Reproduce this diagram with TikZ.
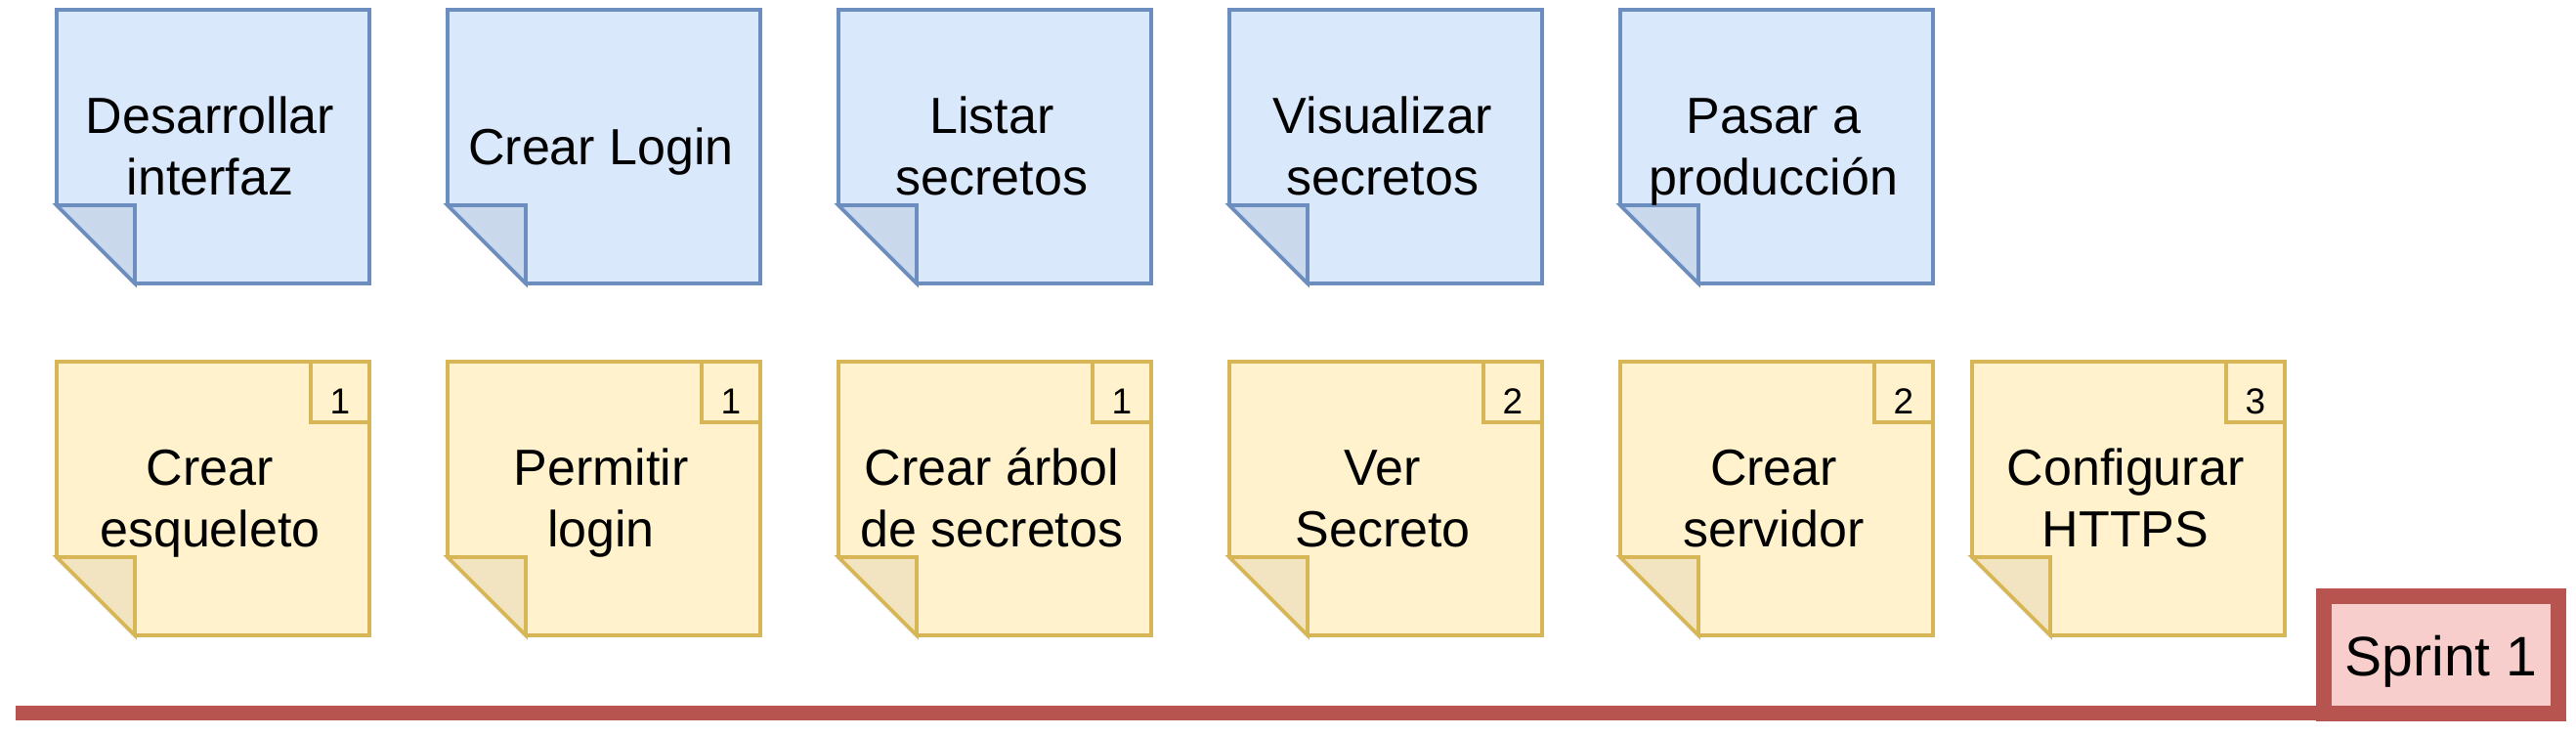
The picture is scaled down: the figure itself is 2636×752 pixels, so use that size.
\documentclass[tikz,border=0pt]{standalone}
\usepackage{fontspec}
\setmainfont{Liberation Sans}
\definecolor{bfill}{HTML}{DAE8FC}
\definecolor{bline}{HTML}{6C8EBF}
\definecolor{bfold}{HTML}{CAD8EC}
\definecolor{yfill}{HTML}{FFF2CC}
\definecolor{yline}{HTML}{D6B656}
\definecolor{yfold}{HTML}{F2E4C0}
\definecolor{sfill}{HTML}{F8CECC}
\definecolor{sline}{HTML}{B85450}
\newcommand\ls{\rule[-13.2pt]{0pt}{62.4pt}}
\newcommand\stickynote[5]{% name, left, top, colour prefix, text
  \path[draw=#4line, fill=#4fill, notepen] (#2,#3) -- ++(320,0) -- ++(0,280) -- ++(-240,0) -- ++(-80,-80) -- cycle;
  \path[draw=#4line, fill=#4fold, notepen] (#2,#3+200) -- ++(80,0) -- ++(0,80) -- cycle;
  \node[notetext] (#1) at (#2+157,#3+140) {#5};
}
\newcommand\storybadge[4]{% name, left, top, number
  \node[badgebox] (#1) at (#2+320,#3) {};
  \node[badgenum] (#1n) at (#2+290,#3+53) {#4};
}
\begin{document}
\begin{tikzpicture}[x=1pt,y=-1pt,
  notepen/.style={line width=3.8pt, line join=miter},
  notetext/.style={inner sep=0pt, outer sep=0pt, align=center,
    font=\fontsize{52pt}{62.4pt}\selectfont, minimum width=320pt, minimum height=280pt},
  badgebox/.style={draw=yline, notepen, inner sep=0pt, outer sep=0pt,
    minimum width=60pt, minimum height=62pt, anchor=north east},
  badgenum/.style={inner sep=0pt, anchor=base, font=\fontsize{37pt}{44pt}\selectfont},
  sprintbox/.style={draw=sline, fill=sfill, line width=16pt, inner sep=0pt, outer sep=0pt,
    minimum width=240pt, minimum height=119.5pt, font=\fontsize{57pt}{68pt}\selectfont},
  sprintline/.style={draw=sline, line width=15pt}]
\useasboundingbox (0,0) rectangle (2636,752);
% backlog (blue)
\stickynote{b1}{58}{10}{b}{\ls Desarrollar\\\ls interfaz}
\stickynote{b2}{458}{10}{b}{\ls Crear Login}
\stickynote{b3}{858}{10}{b}{\ls Listar\\\ls secretos}
\stickynote{b4}{1258}{10}{b}{\ls Visualizar\\\ls secretos}
\stickynote{b5}{1658}{10}{b}{\ls Pasar a\\\ls producción}
% sprint tasks (yellow)
\stickynote{y1}{58}{370}{y}{\ls Crear\\\ls esqueleto}
\storybadge{p1}{58}{370}{1}
\stickynote{y2}{458}{370}{y}{\ls Permitir\\\ls login}
\storybadge{p2}{458}{370}{1}
\stickynote{y3}{858}{370}{y}{\ls Crear árbol\\\ls de secretos}
\storybadge{p3}{858}{370}{1}
\stickynote{y4}{1258}{370}{y}{\ls Ver\\\ls Secreto}
\storybadge{p4}{1258}{370}{2}
\stickynote{y5}{1658}{370}{y}{\ls Crear\\\ls servidor}
\storybadge{p5}{1658}{370}{2}
\stickynote{y6}{2018}{370}{y}{\ls Configurar\\\ls HTTPS}
\storybadge{p6}{2018}{370}{3}
% sprint label and baseline
\node[sprintbox] (sprint) at (2498,669.75) {\rule[-12pt]{0pt}{66.5pt}Sprint 1};
\coordinate (lstart) at (16,729.5);
\draw[sprintline] (lstart) -- (sprint.south west);
\end{tikzpicture}
\end{document}
